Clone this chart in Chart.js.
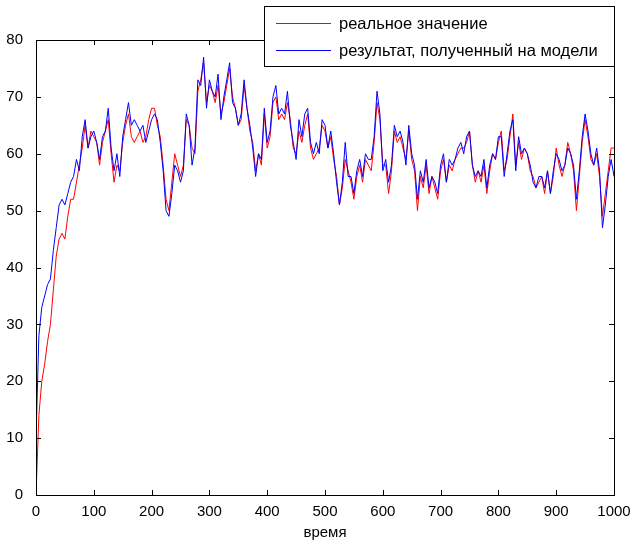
<!DOCTYPE html>
<html>
<head>
<meta charset="utf-8">
<script src="https://cdn.jsdelivr.net/npm/chart.js@4.4.1/dist/chart.umd.min.js"></script>
<style>
  html, body { margin: 0; padding: 0; background: #fff; }
</style>
</head>
<body>
<canvas id="chartModel" width="634" height="542"></canvas>
<script>
// sample times (every 5 units) and values
const times = Array.from({ length: 201 }, (_, i) => i * 5);

const realValues = [
  0, 14, 20, 23, 27, 30, 36, 42, 45, 46, 45, 49, 52, 52, 55, 58, 61, 65, 61, 64, 63,
  62, 58, 62, 64, 66, 60, 55, 58, 57, 62, 65, 67, 63, 62, 63, 64, 62, 63, 66, 68,
  68, 65, 63, 58, 52, 50, 55, 60, 58, 56, 58, 66, 65, 61, 60, 71, 73, 76, 69, 72,
  71, 69, 72, 67, 69, 72, 75, 70, 68, 65, 66, 72, 68, 64, 62, 57, 60, 58, 67, 61,
  63, 69, 70, 66, 67, 66, 69, 66, 61, 60, 64, 62, 65, 67, 61, 59, 60, 61, 65, 64,
  61, 63, 59, 56, 51, 54, 59, 57, 55, 52, 56, 58, 55, 59, 58, 57, 62, 69, 66, 58,
  58, 53, 57, 64, 62, 63, 61, 59, 64, 59, 57, 50, 56, 54, 58, 53, 56, 54, 52, 57,
  59, 55, 58, 57, 59, 60, 61, 61, 62, 64, 58, 55, 57, 55, 58, 53, 57, 60, 59, 62,
  64, 57, 59, 63, 67, 58, 62, 59, 61, 60, 57, 56, 54, 55, 56, 53, 57, 53, 56, 61,
  58, 56, 58, 62, 60, 57, 50, 56, 62, 66, 63, 59, 58, 60, 56, 49, 53, 57, 61, 61
];

const modelValues = [
  10, 28, 33, 35, 37, 38, 43, 47, 51, 52, 51, 53, 55, 56, 59, 57, 63, 66, 61, 63, 64,
  62, 59, 63, 64, 68, 61, 57, 60, 56, 63, 66, 69, 65, 66, 65, 64, 65, 62, 64, 66,
  67, 66, 62, 57, 50, 49, 53, 58, 57, 55, 57, 67, 65, 58, 61, 73, 72, 77, 68, 73,
  71, 70, 74, 66, 70, 73, 76, 69, 68, 65, 67, 73, 68, 65, 61, 56, 60, 59, 68, 62,
  64, 70, 72, 67, 68, 67, 71, 65, 62, 59, 66, 63, 67, 68, 62, 60, 62, 60, 66, 65,
  61, 64, 60, 55, 51, 55, 62, 56, 56, 53, 57, 59, 56, 60, 59, 59, 63, 71, 67, 57,
  59, 55, 58, 65, 63, 64, 62, 58, 65, 60, 58, 52, 57, 55, 59, 54, 56, 55, 53, 58,
  60, 55, 59, 58, 59, 61, 62, 60, 63, 64, 58, 56, 57, 56, 59, 54, 58, 60, 59, 63,
  63, 56, 60, 64, 66, 57, 63, 60, 61, 60, 58, 55, 54, 56, 56, 54, 57, 53, 57, 60,
  59, 57, 58, 61, 60, 58, 52, 57, 63, 67, 64, 60, 58, 61, 57, 47, 51, 56, 59, 56
];

const xTicks = [0, 100, 200, 300, 400, 500, 600, 700, 800, 900, 1000];
const yTicks = [0, 10, 20, 30, 40, 50, 60, 70, 80];

const labelReal = 'реальное значение';
const labelModel = 'результат, полученный на модели';
const xTitle = 'время';

const FONT = '"Liberation Sans", Arial, sans-serif';

// matlab style box, inward ticks and the legend box
const frameAndLegend = {
  id: 'frameAndLegend',
  afterDraw(chart) {
    const ctx = chart.ctx;
    const a = chart.chartArea;
    const xs = chart.scales.x, ys = chart.scales.y;
    ctx.save();
    ctx.strokeStyle = '#000';
    ctx.lineWidth = 1;
    ctx.beginPath();
    xTicks.forEach(v => {
      const px = Math.round(xs.getPixelForValue(v)) + 0.5;
      ctx.moveTo(px, a.bottom); ctx.lineTo(px, a.bottom - 5);
      ctx.moveTo(px, a.top); ctx.lineTo(px, a.top + 5);
    });
    yTicks.forEach(v => {
      const py = Math.round(ys.getPixelForValue(v)) + 0.5;
      ctx.moveTo(a.left, py); ctx.lineTo(a.left + 5, py);
      ctx.moveTo(a.right, py); ctx.lineTo(a.right - 5, py);
    });
    ctx.stroke();
    ctx.strokeRect(Math.round(a.left) + 0.5, Math.round(a.top) + 0.5,
      Math.round(a.right - a.left), Math.round(a.bottom - a.top));

    // legend
    const lx = 264, ly = 6, lw = 350, lh = 60;
    ctx.fillStyle = '#fff';
    ctx.fillRect(lx, ly, lw, lh);
    ctx.strokeRect(lx + 0.5, ly + 0.5, lw, lh);
    ctx.font = '16.5px ' + FONT;
    ctx.textBaseline = 'middle';
    ctx.textAlign = 'left';
    chart.data.datasets.forEach((ds, i) => {
      const y = (i === 0 ? 23 : 50) + 0.5;
      ctx.strokeStyle = ds.borderColor;
      ctx.beginPath();
      ctx.moveTo(276, y); ctx.lineTo(331, y);
      ctx.stroke();
      ctx.fillStyle = '#000';
      ctx.fillText(ds.label, 339, y + 1);
    });
    ctx.restore();
  }
};

const configModel = {
  type: 'line',
  data: {
    labels: times,
    datasets: [{
      label: labelReal,
      data: realValues,
      borderColor: 'rgb(255, 0, 0)',
      borderWidth: 1,
      pointRadius: 0,
      tension: 0,
      order: 2
    }, {
      label: labelModel,
      data: modelValues,
      borderColor: 'rgb(0, 0, 255)',
      borderWidth: 1,
      pointRadius: 0,
      tension: 0,
      order: 1
    }]
  },
  options: {
    responsive: false,
    animation: false,
    layout: { padding: { top: 40, right: 20, left: 0, bottom: 0 } },
    plugins: {
      legend: { display: false },
      tooltip: { enabled: false }
    },
    scales: {
      x: {
        type: 'linear',
        min: 0,
        max: 1000,
        afterFit: s => { s.height = 47; },
        afterBuildTicks: s => { s.ticks = xTicks.map(v => ({ value: v })); },
        grid: { display: false },
        border: { display: false },
        ticks: {
          color: '#000', font: { family: FONT, size: 15 }, padding: 0, maxRotation: 0,
          callback: v => String(v)
        },
        title: { display: true, text: xTitle, color: '#000', font: { family: FONT, size: 15 }, padding: { top: 2, bottom: 0 } }
      },
      y: {
        min: 0,
        max: 80,
        afterFit: s => { s.width = 36; },
        afterBuildTicks: s => { s.ticks = yTicks.map(v => ({ value: v })); },
        grid: { display: false },
        border: { display: false },
        ticks: { color: '#000', font: { family: FONT, size: 15 }, padding: 5 }
      }
    }
  },
  plugins: [frameAndLegend]
};

const chartModel = document.getElementById('chartModel');
var myChartModel = new Chart(chartModel, configModel);
</script>
</body>
</html>
